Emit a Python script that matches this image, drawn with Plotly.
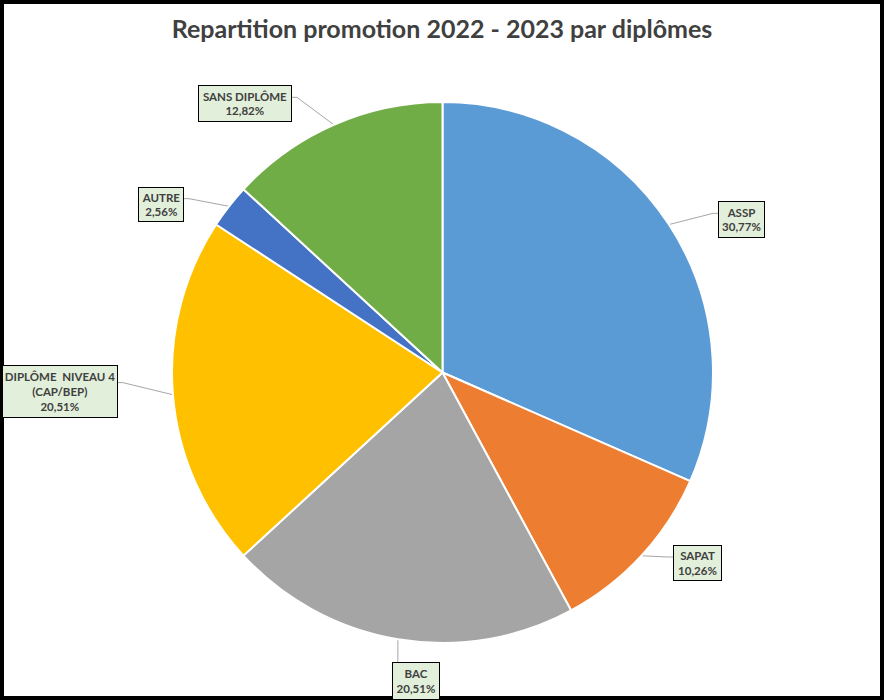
import math
import plotly.graph_objects as go

# ---- data ----
categories = ["ASSP", "SAPAT", "BAC", "DIPLÔME  NIVEAU 4 (CAP/BEP)", "AUTRE", "SANS DIPLÔME"]
percent_values = [30.77, 10.26, 20.51, 20.51, 2.56, 12.82]
colors = ["#5B9BD5", "#ED7D31", "#A5A5A5", "#FFC000", "#4472C4", "#70AD47"]
title_text = "Repartition promotion 2022 - 2023 par diplômes"

# ---- layout (pixels) ----
W, H = 884, 700
cx, cy, R = 442.5, 372.5, 270.5
label_centers = [(741.5, 219.5), (697.5, 563), (416, 681), (60, 391.5), (161, 204.5), (245, 103.5)]
label_sizes = [(47, 37), (49, 36), (48, 38), (116, 53), (46, 35), (94, 37)]
attach_side = ["left", "left", "top", "right", "right", "right"]
PAD = 2

def px(x):
    return x / W

def py(y):
    return 1 - y / H

def fmt_pct(v):
    return f"{v:.2f}".replace(".", ",") + "%"

fig = go.Figure(go.Pie(
    labels=categories, values=percent_values, sort=False, direction="clockwise", rotation=0,
    marker=dict(colors=colors, line=dict(color="white", width=2)),
    textinfo="none", hoverinfo="label+percent", showlegend=False,
    domain=dict(x=[px(cx - R), px(cx + R)], y=[py(cy + R), py(cy - R)]),
))

total = sum(percent_values)
shapes = [dict(type="rect", xref="paper", yref="paper", x0=0, x1=1, y0=0, y1=1,
               line=dict(color="black", width=8), layer="above")]
annotations = []
cum = 0.0
for cat, v, (lx, ly), (bw, bh), side in zip(categories, percent_values, label_centers, label_sizes, attach_side):
    mid = (cum + v / 2) / total * 2 * math.pi
    cum += v
    ex, ey = cx + R * math.sin(mid), cy - R * math.cos(mid)
    text = "<b>" + cat.replace(" (", "<br>(") + "<br>" + fmt_pct(v) + "</b>"
    annotations.append(dict(
        x=px(lx), y=py(ly), xref="paper", yref="paper", text=text, showarrow=False,
        font=dict(family="Lato", size=11.5, color="#404040"),
        bgcolor="#E2EFDA", bordercolor="black", borderwidth=1, borderpad=PAD,
        width=bw - 2 * (PAD + 1), height=bh - 2 * (PAD + 1),
        xanchor="center", yanchor="middle", align="center", valign="middle",
    ))
    top = ly - bh / 2
    if side in ("left", "right"):
        sx = lx - bw / 2 if side == "left" else lx + bw / 2
        sy = top + bh / 3
        kx = sx - 5 if side == "left" else sx + 5
        path = f"M {px(ex)} {py(ey)} L {px(kx)} {py(sy)} L {px(sx)} {py(sy)}"
    else:
        sx = min(max(ex, lx - bw / 2 + 4), lx + bw / 2 - 4)
        sy = top
        path = f"M {px(ex)} {py(ey)} L {px(sx)} {py(sy)}"
    shapes.append(dict(type="path", xref="paper", yref="paper", path=path,
                       line=dict(color="#A6A6A6", width=1), layer="below"))

fig.update_layout(
    width=W, height=H, margin=dict(l=0, r=0, t=0, b=0),
    paper_bgcolor="white", plot_bgcolor="white",
    title=dict(text="<b>" + title_text + "</b>", x=0.5, xanchor="center",
               y=py(29), yanchor="middle", yref="container",
               font=dict(family="Lato", size=25, color="#404040")),
    shapes=shapes, annotations=annotations,
)

fig.write_html("out.html", config={"displayModeBar": False},
               post_script="document.body.style.margin='0';document.body.style.overflow='hidden';")
